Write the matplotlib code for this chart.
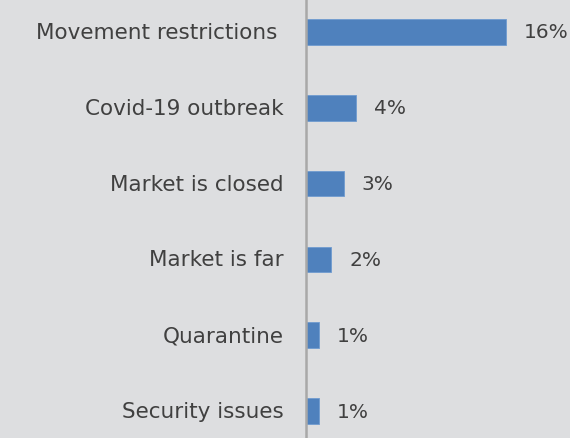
import matplotlib
matplotlib.use("Agg")
import matplotlib.pyplot as plt

categories = ["Movement restrictions ", "Covid-19 outbreak", "Market is closed",
              "Market is far", "Quarantine", "Security issues"]
values = [16, 4, 3, 2, 1, 1]

bg = "#dddee0"
fig = plt.figure(figsize=(5.7, 4.39), dpi=100, facecolor=bg)
ax = fig.add_axes([306 / 570, 0, 1 - 306 / 570, 1], facecolor=bg)

y = list(range(len(categories)))
ax.barh(y, values, height=0.34, color="#4f81bd", edgecolor="#6f9bd0", linewidth=0.6)

for yi, v in zip(y, values):
    ax.text(v + 1.45, yi, f"{v}%", va="center", ha="left", fontsize=14.5, color="#404040")

ax.set_xlim(0, 264 / 12.5)
ax.set_ylim(5.356, -0.435)
ax.set_yticks(y)
ax.set_yticklabels(categories, fontsize=15.5, color="#404040", va="center")
ax.tick_params(axis="y", length=0, pad=16)
ax.set_xticks([])
for s in ["top", "right", "bottom"]:
    ax.spines[s].set_visible(False)
ax.spines["left"].set_color("#a8a8a8")
ax.spines["left"].set_linewidth(1.8)

fig.savefig("out.png", dpi=100, facecolor=bg)
